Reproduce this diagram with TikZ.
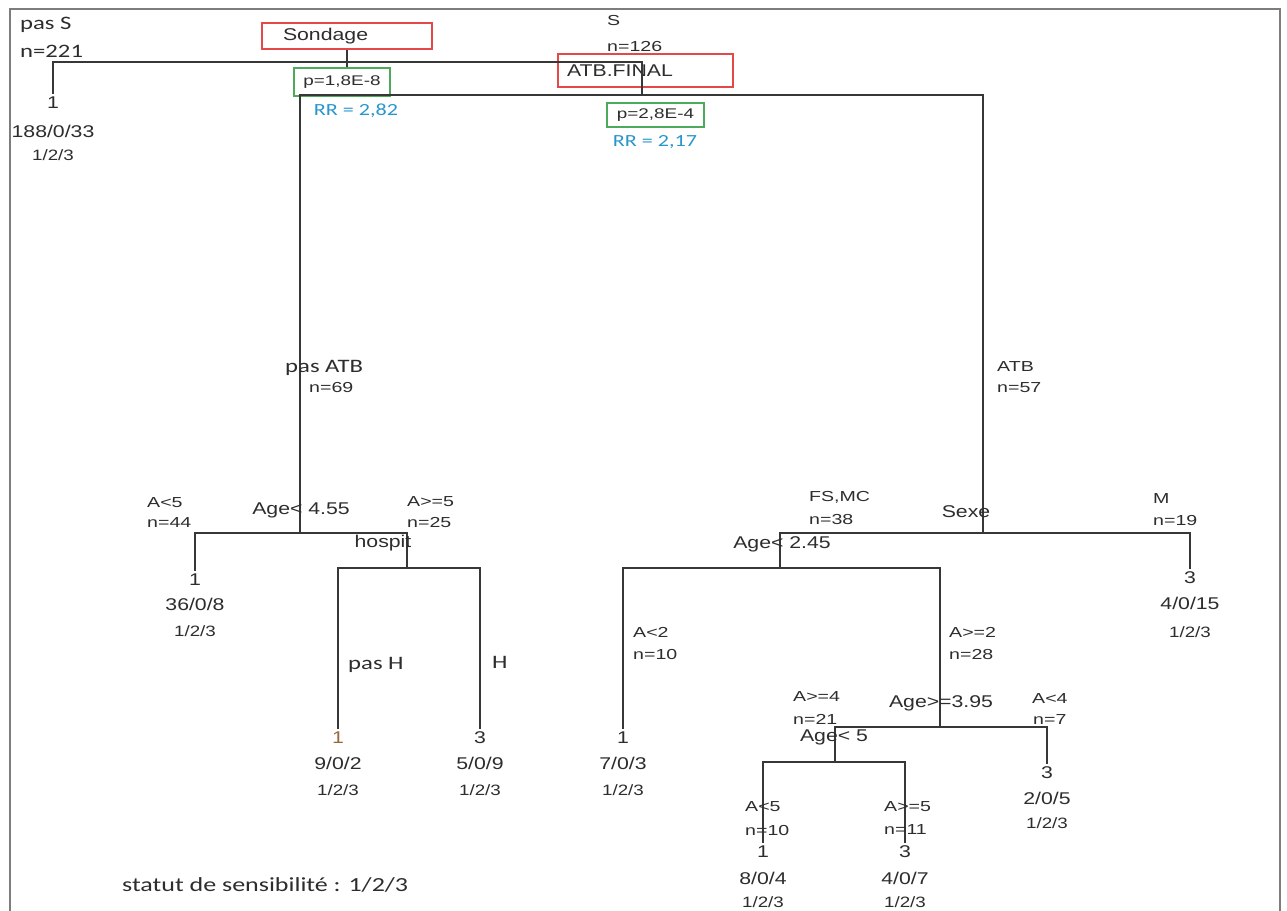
\documentclass[tikz,border=0pt]{standalone}
\usepackage{fontspec}
\usepackage{graphicx}
\setmainfont{Liberation Sans}
\newfontfamily\splitf[FakeStretch=1.25]{Liberation Sans}
\newfontfamily\edgef[FakeStretch=1.35]{Liberation Sans}
\newfontfamily\calf[FakeStretch=1.3]{Carlito}
\definecolor{ln}{RGB}{55,55,55}
\definecolor{tx}{RGB}{45,45,45}
\definecolor{frm}{RGB}{125,125,125}
\definecolor{redb}{RGB}{228,72,72}
\definecolor{greenb}{RGB}{76,170,90}
\definecolor{rrblue}{RGB}{40,150,205}
\definecolor{brn}{RGB}{150,105,60}
\begin{document}
\begin{tikzpicture}[x=1pt,y=-1pt,
  br/.style={draw=ln, line width=1.8pt},
  frame/.style={draw=frm, line width=2.6pt},
  splitlab/.style={font=\splitf\fontsize{17}{17}\selectfont, text=tx, inner sep=0pt},
  edgelab/.style={font=\edgef\fontsize{14.5}{14.5}\selectfont, text=tx, inner sep=0pt, anchor=west},
  callab/.style={font=\calf\fontsize{19}{19}\selectfont, text=tx, inner sep=0pt, anchor=west},
  leafcls/.style={font=\splitf\fontsize{17}{17}\selectfont, text=tx, inner xsep=0pt, inner ysep=3pt},
  leafcnt/.style={font=\splitf\fontsize{17}{17}\selectfont, text=tx, inner sep=0pt},
  leafkey/.style={font=\splitf\fontsize{15}{15}\selectfont, text=tx, inner sep=0pt},
  redbox/.style={draw=redb, line width=1.6pt, inner ysep=0pt, align=left, text=tx, font=\splitf\fontsize{17}{17}\selectfont},
  greenbox/.style={draw=greenb, line width=1.6pt, inner sep=0pt, text=tx, font=\edgef\fontsize{14}{14}\selectfont},
  rrlab/.style={font=\calf\fontsize{17}{17}\selectfont, text=rrblue, inner sep=0pt}
]
\useasboundingbox (0,0) rectangle (1287,910);
\fill[white] (0,0) rectangle (1287,910);

% frame
\draw[frame] (10,915) -- (10,9) -- (1280,9) -- (1280,915);

% annotation boxes
\node[redbox, minimum width=170pt, minimum height=26pt, inner xsep=21pt, text width=128pt] (sond) at (347,36) {Sondage};
\node[redbox, minimum width=175pt, minimum height=33pt, inner xsep=9pt, text width=157pt] (atbf) at (645.5,70.5) {ATB.FINAL};
\node[greenbox, minimum width=96pt, minimum height=28pt] (p1) at (342,82) {p=1,8E-8};
\node[greenbox, minimum width=97pt, minimum height=24pt] (p2) at (655.5,115) {p=2,8E-4};
\node[rrlab] (rr1) at (356,111) {RR = 2,82};
\node[rrlab] (rr2) at (655,142) {RR = 2,17};

% split coordinates
\coordinate (r) at (348,62);
\coordinate (aTop) at (642,62);
\coordinate (aS) at (642,95);
\coordinate (bTop) at (300,95);
\coordinate (cTop) at (983,95);
\coordinate (bS) at (300,533);
\coordinate (cS) at (983,533);
\coordinate (dS) at (407,568);
\coordinate (eS) at (780,568);
\coordinate (fS) at (940,727);
\coordinate (gS) at (835,762);

% leaves
\node[leafcls] (l0a) at (53,103) {1};
\node[leafcnt] (l0b) at (53,131) {188/0/33};
\node[leafkey] (l0c) at (53,155) {1/2/3};

\node[leafcls] (l1a) at (195,580) {1};
\node[leafcnt] (l1b) at (195,604) {36/0/8};
\node[leafkey] (l1c) at (195,631) {1/2/3};

\node[leafcls, text=brn] (l2a) at (338,738) {1};
\node[leafcnt] (l2b) at (338,763) {9/0/2};
\node[leafkey] (l2c) at (338,790) {1/2/3};

\node[leafcls] (l3a) at (480,738) {3};
\node[leafcnt] (l3b) at (480,763) {5/0/9};
\node[leafkey] (l3c) at (480,790) {1/2/3};

\node[leafcls] (l4a) at (623,738) {1};
\node[leafcnt] (l4b) at (623,763) {7/0/3};
\node[leafkey] (l4c) at (623,790) {1/2/3};

\node[leafcls] (l5a) at (1190,578) {3};
\node[leafcnt] (l5b) at (1190,603) {4/0/15};
\node[leafkey] (l5c) at (1190,632) {1/2/3};

\node[leafcls] (l6a) at (1047,773) {3};
\node[leafcnt] (l6b) at (1047,798) {2/0/5};
\node[leafkey] (l6c) at (1047,823) {1/2/3};

\node[leafcls] (l7a) at (763,852) {1};
\node[leafcnt] (l7b) at (763,878) {8/0/4};
\node[leafkey] (l7c) at (763,902) {1/2/3};

\node[leafcls] (l8a) at (905,852) {3};
\node[leafcnt] (l8b) at (905,878) {4/0/7};
\node[leafkey] (l8c) at (905,902) {1/2/3};

% branches
\draw[br, line width=1.4pt] (sond.south) -- (sond.south |- p1.north);
\draw[br] (l0a.north) |- (r) -- (aTop) -- (aS);
\draw[br] (bS) -- (bTop) -- (aS) -- (cTop) -- (cS);
\draw[br] (l1a.north) |- (bS) -| (dS);
\draw[br, line width=2.6pt] (l2a.north) |- (dS);
\draw[br] (dS) -| (l3a.north);
\draw[br] (eS) |- (cS) -| (l5a.north);
\draw[br] (l4a.north) |- (eS) -| (fS);
\draw[br] (gS) |- (fS) -| (l6a.north);
\draw[br] (l7a.north) |- (gS) -| (l8a.north);

% split labels
\node[splitlab] (s1) at (301,510) {Age< 4.55};
\node[splitlab] (s2) at (383,543) {hospit};
\node[splitlab] (s3) at (966,512) {Sexe};
\node[splitlab] (s4) at (782,544) {Age< 2.45};
\node[splitlab] (s5) at (941,703) {Age>=3.95};
\node[splitlab] (s6) at (834,737) {Age< 5};

% edge labels
\node[callab] (e1) at (20,25) {pas S};
\node[callab] (e2) at (20,51) {n=221};
\node[edgelab] (e3) at (607,21) {S};
\node[edgelab] (e4) at (607,47) {n=126};
\node[callab] (e5) at (285,368) {pas ATB};
\node[edgelab] (e6) at (309,388) {n=69};
\node[edgelab] (e7) at (997,367) {ATB};
\node[edgelab] (e8) at (997,388) {n=57};
\node[edgelab] (e9) at (147,503) {A<5};
\node[edgelab] (e10) at (147,523) {n=44};
\node[edgelab] (e11) at (407,502) {A>=5};
\node[edgelab] (e12) at (407,523) {n=25};
\node[edgelab] (e13) at (809,497) {FS,MC};
\node[edgelab] (e14) at (809,520) {n=38};
\node[edgelab] (e15) at (1153,499) {M};
\node[edgelab] (e16) at (1153,521) {n=19};
\node[edgelab] (e17) at (633,632) {A<2};
\node[edgelab] (e18) at (633,654) {n=10};
\node[edgelab] (e19) at (949,632) {A>=2};
\node[edgelab] (e20) at (949,654) {n=28};
\node[callab] (e21) at (348,665) {pas H};
\node[callab] (e22) at (492,662) {H};
\node[edgelab] (e23) at (793,697) {A>=4};
\node[edgelab] (e24) at (793,719) {n=21};
\node[edgelab] (e25) at (1032,699) {A<4};
\node[edgelab] (e26) at (1033,720) {n=7};
\node[edgelab] (e27) at (745,807) {A<5};
\node[edgelab] (e28) at (745,830) {n=10};
\node[edgelab] (e29) at (884,807) {A>=5};
\node[edgelab] (e30) at (884,830) {n=11};

% legend
\node[callab, font=\calf\fontsize{20}{20}\selectfont] (leg) at (122,885) {statut de sensibilité : 1/2/3};
\end{tikzpicture}
\end{document}
